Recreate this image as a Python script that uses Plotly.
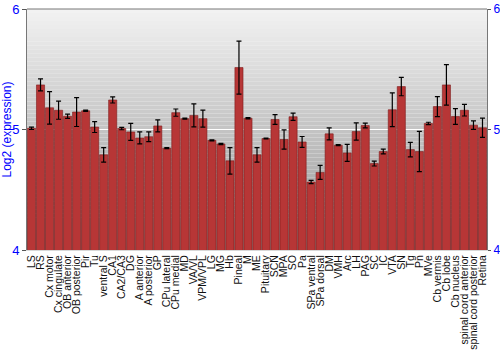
import plotly.graph_objects as go

categories = ["LS", "RS", "Cx motor", "Cx cingulate", "OB anterior", "OB posterior", "Pir", "Tu",
              "ventral S", "CA1", "CA2/CA3", "DG", "A anterior", "A posterior", "GP", "CPu lateral",
              "CPu medial", "MD", "VA/VL", "VPM/VPL", "LG", "MG", "Hb", "Pineal", "M", "ME",
              "Pituitary", "SCN", "MPA", "SO", "Pa", "SPa ventral", "SPa dorsal", "DM", "VMH", "Arc",
              "LH", "PAG", "SC", "IC", "VTA", "SN", "Tg", "Pn", "MVe", "Cb vermis", "Cb lobe",
              "Cb nucleus", "spinal cord anterior", "spinal cord posterior", "Retina"]
values = [5.01, 5.37, 5.18, 5.16, 5.11, 5.145, 5.155, 5.02,
          4.79, 5.245, 5.008, 4.98, 4.93, 4.94, 5.03, 4.845,
          5.14, 5.09, 5.117, 5.09, 4.91, 4.88, 4.74, 5.514, 5.094, 4.79,
          4.925, 5.083, 4.917, 5.106, 4.897, 4.564, 4.644, 4.964, 4.87, 4.806,
          4.983, 5.033, 4.717, 4.817, 5.164, 5.356, 4.833, 4.817, 5.05, 5.19, 5.37,
          5.108, 5.16, 5.036, 5.014]
errors = [0.01, 0.05, 0.135, 0.075, 0.017, 0.12, 0.005, 0.045,
          0.06, 0.025, 0.01, 0.07, 0.05, 0.04, 0.05, 0.004,
          0.03, 0.005, 0.095, 0.07, 0.004, 0.005, 0.11, 0.22, 0.005, 0.06,
          0.004, 0.04, 0.08, 0.03, 0.045, 0.013, 0.058, 0.05, 0.005, 0.07,
          0.072, 0.02, 0.02, 0.02, 0.14, 0.076, 0.06, 0.167, 0.01, 0.083, 0.168,
          0.065, 0.048, 0.035, 0.08]
y_ticks = [4, 5, 6]

fig = go.Figure()

# gradient background stripes
n = 60
top_c = (242, 242, 242)
bot_c = (150, 150, 150)
shapes = []
for i in range(n):
    t = i / (n - 1)
    c = tuple(int(round(top_c[k] + (bot_c[k] - top_c[k]) * t)) for k in range(3))
    shapes.append(dict(type="rect", xref="paper", yref="paper", x0=0, x1=1,
                       y0=1 - (i + 1) / n, y1=1 - i / n, layer="below",
                       fillcolor="rgb(%d,%d,%d)" % c, line=dict(width=0)))

fig.add_trace(go.Bar(
    x=categories, y=values,
    marker=dict(color="#b73636", line=dict(color="#7d1d1d", width=0.6)),
    error_y=dict(type="data", array=errors, color="black", thickness=1.2, width=2.5),
    showlegend=False,
))
fig.add_trace(go.Scatter(x=categories, y=values, yaxis="y2", mode="markers",
                         marker=dict(opacity=0), showlegend=False, hoverinfo="skip"))

axis_font = dict(family="Liberation Sans, Arial, sans-serif", size=13, color="#0000ff")
axis_font_r = dict(family="Liberation Sans, Arial, sans-serif", size=12, color="#0000ff")
fig.update_layout(
    width=500, height=350,
    margin=dict(l=27, r=13, t=9, b=100, autoexpand=False),
    paper_bgcolor="white",
    plot_bgcolor="rgba(0,0,0,0)",
    shapes=shapes,
    bargap=0.1,
    font=dict(family="Liberation Sans, Arial, sans-serif"),
    xaxis=dict(type="category", tickangle=-90, tickmode="array", tickvals=categories,
               ticktext=categories, tickfont=dict(size=10.5, color="#111111"),
               automargin=False,
               showline=True, linecolor="#d8d8d8", mirror=False, ticks="", showgrid=False,
               range=[-0.5, len(categories) - 0.5]),
    yaxis=dict(range=[4, 6], tickvals=y_ticks, ticktext=[str(v) for v in y_ticks],
               tickfont=axis_font, ticks="outside", ticklen=4, tickcolor="#555555",
               showline=True, linecolor="#777777", linewidth=1, automargin=False,
               showgrid=True, gridcolor="white", gridwidth=1, zeroline=False,
               title=dict(text="Log2 (expression)", font=dict(size=12, color="#0000ff"), standoff=4)),
    yaxis2=dict(range=[4, 6], overlaying="y", side="right", tickvals=y_ticks,
                ticktext=[str(v) for v in y_ticks], tickfont=axis_font_r, ticks="outside",
                ticklen=3, tickcolor="#555555", showline=True, linecolor="#777777",
                ticklabelstandoff=0,
                showgrid=False, zeroline=False, automargin=False),
)
fig.add_shape(type="line", xref="paper", yref="paper", x0=0, x1=1, y0=1, y1=1,
              line=dict(color="#777777", width=1))
fig.write_html("out.html")
